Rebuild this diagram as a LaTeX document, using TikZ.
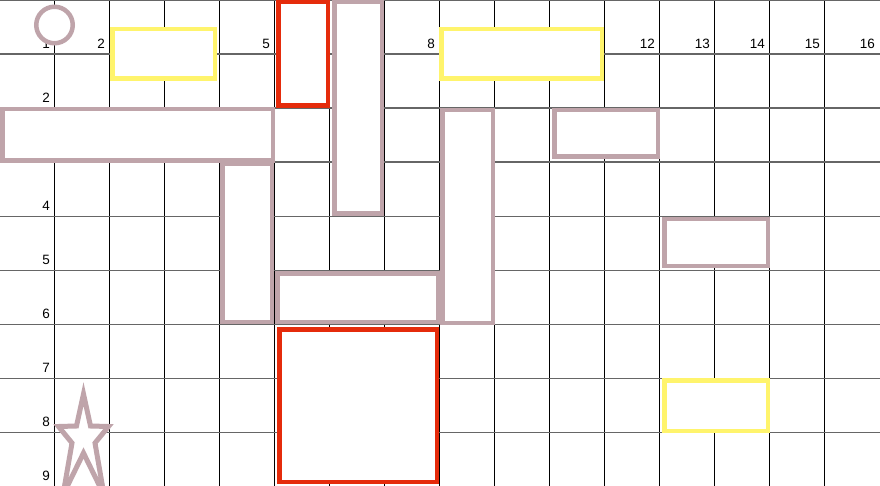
\documentclass[tikz,border=0pt]{standalone}
\usepackage{fontspec}
\setmainfont{Liberation Sans}
\definecolor{mauve}{HTML}{BFA4AA}
\definecolor{boxred}{HTML}{E52B0B}
\definecolor{boxyellow}{HTML}{FFF46C}
\begin{document}
\begin{tikzpicture}[x=1pt,y=-1pt,
  vline/.style={black, line width=0.9pt},
  hline/.style={black!60, line width=1.3pt},
  lbl/.style={anchor=base east, inner sep=0pt, font=\fontsize{13.5}{14}\selectfont},
  blk/.style={draw, fill=white, line width=4.5pt, inner sep=0pt, rectangle},
  mbox/.style={blk, draw=mauve},
  rbox/.style={blk, draw=boxred},
  ybox/.style={blk, draw=boxyellow},
  ring/.style={draw=mauve, fill=white, line width=4.5pt, circle, inner sep=0pt, minimum size=36.5pt},
  starline/.style={draw=mauve, fill=white, line width=5pt, line join=miter, miter limit=10}]
\useasboundingbox (0,0) rectangle (880,486);
\clip (0,0) rectangle (880,486);
\fill[white] (0,0) rectangle (880,486);
% grid
\foreach \k in {0,...,14} \draw[vline] ({54.5+55*\k},0) -- ({54.5+55*\k},486);
\foreach \k in {0,...,9} \draw[hline] (0,{54.05*\k}) -- (880,{54.05*\k});
% column labels
\foreach \k in {1,2,5,8,12,13,14,15,16} \node[lbl] (c\k) at ({55*\k-5},48.5) {\k};
% row labels
\foreach \j in {2,4,5,6,7,8,9} \node[lbl] (r\j) at (50,{54*\j-5.5}) {\j};
% boxes
\node[ybox, minimum width=102.5pt, minimum height=49.5pt] (y1) at (163.5,54) {};
\node[rbox, minimum width=49.5pt, minimum height=103.5pt] (r1) at (303,54) {};
\node[mbox, minimum width=47.5pt, minimum height=211.5pt] (mtall) at (358,108) {};
\node[ybox, minimum width=160.5pt, minimum height=49.5pt] (y2) at (521.5,54) {};
\node[mbox, minimum width=49.5pt, minimum height=157.5pt] (mvleft) at (247,243) {};
\node[mbox, minimum width=270.5pt, minimum height=51.5pt] (mwide) at (137.5,135) {};
\node[mbox, minimum width=50.5pt, minimum height=212.5pt] (mcol) at (467.5,216.5) {};
\node[mbox, minimum width=103.5pt, minimum height=46.5pt] (m12) at (606,133.5) {};
\node[mbox, minimum width=160.5pt, minimum height=48.5pt] (mhoriz) at (357.5,297.5) {};
\node[rbox, minimum width=157.5pt, minimum height=152.5pt] (rbig) at (358,405.5) {};
\node[mbox, minimum width=103.5pt, minimum height=46.5pt] (mright) at (716,242.5) {};
\node[ybox, minimum width=103.5pt, minimum height=50.5pt] (yright) at (716,405.5) {};
% circle
\node[ring] (circ) at (54.5,25) {};
% star
\draw[starline] (83.5,394) -- (90.5,426) -- (108.5,426.5) -- (95,443) -- (104,495)
  -- (83.5,453) -- (63,495) -- (72,443) -- (58.5,426.5) -- (76.5,426) -- cycle;
\end{tikzpicture}
\end{document}
